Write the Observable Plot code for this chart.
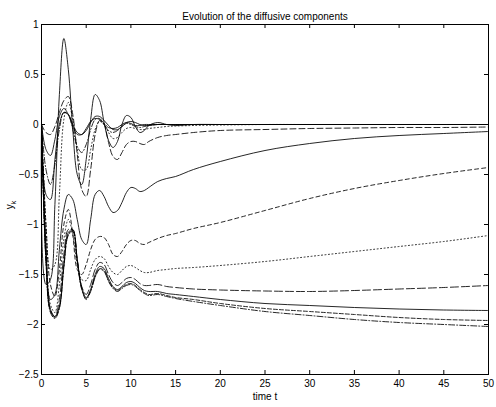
<!DOCTYPE html>
<html><head><meta charset="utf-8">
<script src="https://cdn.jsdelivr.net/npm/d3@7"></script>
<script src="https://cdn.jsdelivr.net/npm/@observablehq/plot@0.6"></script>
<style>
body{margin:0;background:#fff;}
svg{display:block;font-family:"Liberation Sans",Arial,Helvetica,sans-serif;}
</style>
</head><body><div id="chart"></div>
<script>
const title = "Evolution of the diffusive components";
const xLabel = "time t";
const xTicks = [0,5,10,15,20,25,30,35,40,45,50];
const yTicks = [1,0.5,0,-0.5,-1,-1.5,-2,-2.5];

const times = [0,0.5,1,1.5,2,2.5,3,3.5,4,4.5,5,5.5,6,6.5,7,7.5,8,8.5,9,9.5,10,10.5,11,11.5,12,13,14,15,17,20,25,30,35,40,45,50];

const yA  = [0,-1.6,-1.55,-0.8,0.3,0.86,0.55,-0.05,-0.5,-0.6,-0.35,0.05,0.3,0.24,0.02,-0.16,-0.23,-0.17,0,0.09,0.07,-0.02,-0.08,-0.06,-0.01,0.02,0,-0.01,0,0,0,0,0,0,0,0];
const yB  = [0,-0.25,-0.31,-0.15,0.08,0.16,0.1,-0.02,-0.1,-0.1,-0.04,0.03,0.06,0.05,0.01,-0.03,-0.04,-0.03,0,0.02,0.01,-0.01,-0.01,0,0,0,0,0,0,0,0,0,0,0,0,0];
const yG  = [0,-0.7,-0.75,-0.35,0,0.12,0.1,0,-0.08,-0.1,-0.06,0.02,0.08,0.08,0.04,-0.01,-0.05,-0.05,-0.02,0.02,0.03,0.02,0,-0.01,-0.01,0,0,0,0,0,0,0,0,0,0,0];
const yC  = [0,-0.08,-0.1,-0.02,0.12,0.24,0.28,0.1,-0.3,-0.65,-0.72,-0.45,-0.1,0.04,0,-0.18,-0.32,-0.35,-0.28,-0.2,-0.17,-0.17,-0.19,-0.2,-0.17,-0.13,-0.11,-0.1,-0.08,-0.06,-0.05,-0.04,-0.035,-0.03,-0.03,-0.025];
const yE  = [0,-1.0,-1.45,-1.4,-0.7,0.05,0.22,0.05,-0.25,-0.45,-0.45,-0.25,-0.05,0.03,0,-0.08,-0.14,-0.13,-0.08,-0.04,-0.03,-0.04,-0.05,-0.05,-0.04,-0.03,-0.02,-0.015,-0.01,-0.005,0,0,0,0,0,0];
const yF  = [0,-0.45,-0.6,-0.4,-0.05,0.12,0.1,-0.05,-0.22,-0.28,-0.2,-0.05,0.05,0.06,0,-0.06,-0.08,-0.06,-0.02,0.01,0,-0.02,-0.03,-0.02,-0.01,0,0,0,0,0,0,0,0,0,0,0];
const yS3 = [0,-1.2,-1.75,-1.7,-1.25,-0.85,-0.7,-0.75,-0.95,-1.15,-1.2,-0.95,-0.7,-0.66,-0.72,-0.82,-0.88,-0.86,-0.78,-0.68,-0.63,-0.64,-0.67,-0.66,-0.63,-0.57,-0.54,-0.52,-0.45,-0.37,-0.26,-0.19,-0.14,-0.11,-0.09,-0.07];
const ySD = [0,-1.0,-1.6,-1.72,-1.45,-1.0,-0.85,-1.1,-1.45,-1.5,-1.4,-1.25,-1.15,-1.12,-1.13,-1.2,-1.3,-1.32,-1.27,-1.2,-1.16,-1.16,-1.19,-1.2,-1.18,-1.14,-1.11,-1.09,-1.04,-0.98,-0.86,-0.74,-0.64,-0.56,-0.49,-0.43];
const yDT = [0,-1.2,-1.8,-1.88,-1.6,-1.15,-0.95,-1.1,-1.4,-1.55,-1.56,-1.45,-1.35,-1.32,-1.34,-1.42,-1.48,-1.5,-1.46,-1.42,-1.41,-1.43,-1.46,-1.48,-1.48,-1.46,-1.45,-1.44,-1.43,-1.41,-1.37,-1.32,-1.27,-1.22,-1.17,-1.11];
const yLD = [0,-1.3,-1.85,-1.92,-1.75,-1.3,-1.05,-1.05,-1.35,-1.62,-1.7,-1.6,-1.45,-1.38,-1.4,-1.5,-1.58,-1.61,-1.58,-1.54,-1.53,-1.55,-1.59,-1.61,-1.61,-1.6,-1.62,-1.63,-1.645,-1.655,-1.665,-1.67,-1.66,-1.645,-1.63,-1.61];
const ySB = [0,-1.35,-1.85,-1.92,-1.82,-1.4,-1.08,-1.05,-1.35,-1.63,-1.73,-1.65,-1.5,-1.42,-1.44,-1.54,-1.62,-1.65,-1.62,-1.58,-1.57,-1.59,-1.63,-1.66,-1.67,-1.67,-1.69,-1.7,-1.72,-1.75,-1.79,-1.81,-1.83,-1.845,-1.855,-1.86];
const ySD2= [0,-1.36,-1.87,-1.93,-1.83,-1.42,-1.1,-1.06,-1.36,-1.64,-1.74,-1.66,-1.52,-1.44,-1.46,-1.56,-1.63,-1.66,-1.63,-1.6,-1.59,-1.61,-1.65,-1.68,-1.7,-1.69,-1.71,-1.73,-1.75,-1.79,-1.84,-1.87,-1.9,-1.93,-1.95,-1.96];
const yDD = [0,-1.37,-1.88,-1.94,-1.84,-1.43,-1.11,-1.07,-1.37,-1.65,-1.75,-1.67,-1.53,-1.45,-1.47,-1.57,-1.64,-1.67,-1.64,-1.61,-1.6,-1.62,-1.66,-1.69,-1.71,-1.7,-1.72,-1.74,-1.77,-1.81,-1.87,-1.91,-1.95,-1.98,-2.0,-2.02];

const series = [
  {values: yA,   dash: null},
  {values: yB,   dash: null},
  {values: yG,   dash: null},
  {values: yC,   dash: "6,3"},
  {values: yE,   dash: "1,2.5"},
  {values: yF,   dash: "6,2,1,2"},
  {values: yS3,  dash: null},
  {values: ySD,  dash: "4,3"},
  {values: yDT,  dash: "1,2.5"},
  {values: yLD,  dash: "8,3"},
  {values: ySB,  dash: null},
  {values: ySD2, dash: "4,2"},
  {values: yDD,  dash: "6,2,1,2"}
];

const W = 496, H = 407, mL = 41, mR = 8, mT = 24, mB = 33;
const innerW = W - mL - mR, innerH = H - mT - mB;
const fmt = d => d < 0 ? "\u2212" + Math.abs(d) : String(d);

const lineMarks = series.map(s => Plot.line(times.map((t, i) => ({t, y: s.values[i]})), {
  x: "t", y: "y", stroke: "black", strokeWidth: 0.85,
  strokeDasharray: s.dash || undefined, curve: "catmull-rom"
}));

const chart = Plot.plot({
  width: W, height: H,
  marginLeft: mL, marginRight: mR, marginTop: mT, marginBottom: mB,
  style: {fontFamily: '"Liberation Sans",Arial,Helvetica,sans-serif', fontSize: "10px", color: "black", background: "white"},
  x: {domain: [0, 50]},
  y: {domain: [-2.5, 1]},
  marks: [
    ...lineMarks,
    Plot.tickX(xTicks, {x: d => d, stroke: "black", strokeWidth: 1, insetTop: innerH - 4}),
    Plot.tickX(xTicks, {x: d => d, stroke: "black", strokeWidth: 1, insetBottom: innerH - 4}),
    Plot.tickY(yTicks, {y: d => d, stroke: "black", strokeWidth: 1, insetRight: innerW - 4}),
    Plot.tickY(yTicks, {y: d => d, stroke: "black", strokeWidth: 1, insetLeft: innerW - 4}),
    Plot.axisX({ticks: xTicks, tickSize: 0, tickPadding: 5, label: null, tickFormat: fmt, fontSize: 10}),
    Plot.axisY({ticks: yTicks, tickSize: 0, tickPadding: 3, label: null, tickFormat: fmt, fontSize: 10}),
    Plot.frame({stroke: "black", strokeWidth: 1}),
    Plot.text([title], {frameAnchor: "top", dy: -12, fontSize: 10, fill: "black"}),
    Plot.text([xLabel], {frameAnchor: "bottom", dy: 25, fontSize: 10, fill: "black"})
  ]
});

const svg = d3.select(chart);
const yl = svg.append("text")
  .attr("transform", "translate(13,205) rotate(-90)")
  .attr("text-anchor", "middle")
  .attr("font-size", 10)
  .attr("fill", "black");
yl.append("tspan").text("y");
yl.append("tspan").attr("font-size", 7).attr("dy", 3).text("k");

document.getElementById("chart").appendChild(chart);
</script>
</body></html>
